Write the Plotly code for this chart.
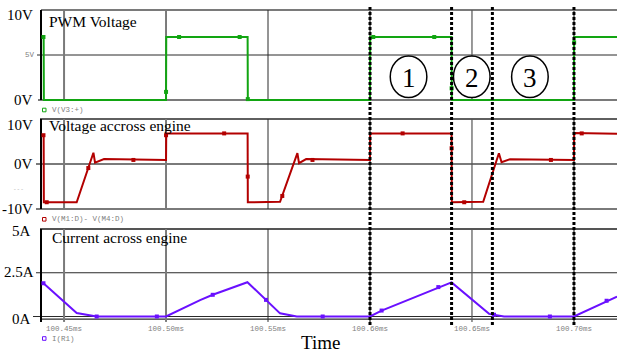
import plotly.graph_objects as go

W, H = 617, 353
SERIF = "Liberation Serif, Times New Roman, serif"
MONO = "Liberation Mono, Courier New, monospace"

# ---------------- data ----------------
# time axis, ms
tick_times = [100.45, 100.50, 100.55, 100.60, 100.65, 100.70]
tick_labels = ["100.45ms", "100.50ms", "100.55ms", "100.60ms", "100.65ms", "100.70ms"]
t_view = [100.4387, 100.7211]

# V(V3:+)  PWM gate voltage, V
pwm_t = [100.4399, 100.4400, 100.4401, 100.5000, 100.5001, 100.5400, 100.5401,
         100.6000, 100.6001, 100.6400, 100.6401, 100.7000, 100.7001, 100.7211]
pwm_v = [7.0, 7.0, 0.0, 0.0, 7.0, 7.0, 0.0, 0.0, 7.0, 7.0, 0.0, 0.0, 7.0, 7.0]
pwm_mark_t = [100.4399, 100.50001, 100.5064, 100.5361, 100.54009, 100.6016, 100.6315, 100.64002, 100.70009]
pwm_mark_v = [7.0, 0.9, 7.0, 7.0, 0.1, 7.0, 7.0, 1.3, 6.4]

# V(M1:D)- V(M4:D)  voltage across the motor, V
eng_t = [100.4399, 100.4400, 100.4401, 100.4562, 100.4644, 100.4652, 100.4696, 100.5000,
         100.5001, 100.5400, 100.5401, 100.5559, 100.5644, 100.5652, 100.5687, 100.6000,
         100.6001, 100.6400, 100.6401, 100.6555, 100.6632, 100.6645, 100.6686, 100.7000,
         100.7001, 100.7211]
eng_v = [6.4, 6.4, -8.5, -8.5, 2.5, 0.3, 1.1, 0.9,
         6.8, 6.8, -8.5, -8.4, 2.4, 0.2, 1.1, 0.9,
         6.8, 6.8, -8.5, -8.4, 2.4, 0.4, 1.05, 0.9,
         6.9, 6.7]
eng_mark_t = [100.4399, 100.4415, 100.4619, 100.4840, 100.50001, 100.5285, 100.54005,
              100.5570, 100.5718, 100.6160, 100.64002, 100.6462, 100.6887, 100.7038]
eng_mark_v = [6.4, -8.5, -0.9, 0.9, 6.4, 6.8, -2.8, -7.1, 0.9, 6.8, 3.5, -8.5, 0.9, 6.8]

# I(R1)  motor current, A
cur_t = [100.4399, 100.4562, 100.4660, 100.5000, 100.5167, 100.5229, 100.5399, 100.5490,
         100.5559, 100.5641, 100.6000, 100.6057, 100.6335, 100.6400, 100.6584, 100.6657,
         100.7000, 100.7160, 100.7211]
cur_a = [1.9, 0.2, 0.0, 0.0, 0.94, 1.24, 1.96, 0.95,
         0.18, 0.0, 0.0, 0.34, 1.68, 1.95, 0.15, 0.0,
         0.0, 0.9, 1.14]
cur_mark_t = [100.4399, 100.4660, 100.4955, 100.5229, 100.5490, 100.5768, 100.6057,
              100.6335, 100.6608, 100.6882, 100.7160]
cur_mark_a = [1.9, 0.0, 0.0, 1.24, 0.95, 0.0, 0.34, 1.68, 0.10, 0.0, 0.9]

# switching instants and operating phases
event_times = [100.60, 100.64, 100.66, 100.70]
phase_labels = ["1", "2", "3"]
phase_centers = [100.6189, 100.6499, 100.6784]

GREEN = "#12a512"
RED = "#b30000"
BLUE = "#6a10ff"
GRID = "#7a7a7a"
DARK = "#2a2a2a"
LABEL_GRAY = "#808080"

# ---------------- layout helpers ----------------
def fx(px):
    return px / W


def fy(py):
    return 1 - py / H


# (top px, bottom px, px of zero, px per unit)
panels = [(7, 104, 100, 9.0), (117, 212, 164, 4.5), (226, 322, 316.5, 17.5)]
yaxes = []
for top, bot, zero, ppu in panels:
    yaxes.append(dict(domain=[fy(bot), fy(top)],
                      range=[(zero - bot) / ppu, (zero - top) / ppu]))

fig = go.Figure()

series = [
    ("y", pwm_t, pwm_v, pwm_mark_t, pwm_mark_v, GREEN, "V(V3:+)"),
    ("y2", eng_t, eng_v, eng_mark_t, eng_mark_v, RED, "V(M1:D)- V(M4:D)"),
    ("y3", cur_t, cur_a, cur_mark_t, cur_mark_a, BLUE, "I(R1)"),
]
xnames = ["x", "x2", "x3"]
for (yn, t, v, mt, mv, col, name), xn in zip(series, xnames):
    fig.add_trace(go.Scatter(x=t, y=v, mode="lines", xaxis=xn, yaxis=yn,
                             line=dict(color=col, width=2), name=name,
                             showlegend=False, hoverinfo="skip"))
    fig.add_trace(go.Scatter(x=mt, y=mv, mode="markers", xaxis=xn, yaxis=yn,
                             marker=dict(color=col, symbol="square", size=4),
                             showlegend=False, hoverinfo="skip"))

shapes = []


def hline(yref, val, color, width, x0px=41):
    shapes.append(dict(type="line", xref="paper", yref=yref, x0=fx(x0px), x1=1,
                       y0=val, y1=val, line=dict(color=color, width=width), layer="below"))


def vline(xref, yref, t, lo, hi, color, width):
    shapes.append(dict(type="line", xref=xref, yref=yref, x0=t, x1=t, y0=lo, y1=hi,
                       line=dict(color=color, width=width), layer="below"))


v_styles = [(GRID, 2), (GRID, 2), (DARK, 1), (GRID, 2), ("#555555", 1.2), (GRID, 2)]

# panel 1: PWM
hline("y", 10, GRID, 2)
hline("y", 5, DARK, 1, 37)
hline("y", 0, GRID, 2, 38)
# panel 2: motor voltage
hline("y2", 10, DARK, 1.5, 40)
hline("y2", 0, GRID, 2, 36)
hline("y2", -10, GRID, 2, 36)
# panel 3: current
hline("y3", 5, "#555555", 2, 40)
hline("y3", 2.5, DARK, 1, 36)
hline("y3", 0, DARK, 1.2, 33)
hline("y3", -0.15, DARK, 1.2, 41)

extents = [("x", "y", 0, 10), ("x2", "y2", -10, 10), ("x3", "y3", -0.31, 5)]
for xr, yr, lo, hi in extents:
    for tt, (c, w) in zip(tick_times, v_styles):
        vline(xr, yr, tt, lo, hi, c, w)
    shapes.append(dict(type="line", xref="paper", yref=yr, x0=fx(41), x1=fx(41),
                       y0=lo, y1=hi, line=dict(color="black", width=2), layer="below"))

# switching instants
for tt in event_times:
    shapes.append(dict(type="line", xref="x", yref="paper", x0=tt, x1=tt,
                       y0=fy(325), y1=fy(5),
                       line=dict(color="black", width=3, dash="3px,2px"), layer="above"))

# phase markers
half_w = 18.3 * (0.05 / 102)
for c in phase_centers:
    shapes.append(dict(type="circle", xref="x", yref="y", x0=c - half_w, x1=c + half_w,
                       y0=0.28, y1=4.89, fillcolor="white",
                       line=dict(color="black", width=1.5), layer="above"))

# legend swatches
for ypx, col in [(110, GREEN), (219.3, RED), (338.5, BLUE)]:
    shapes.append(dict(type="rect", xref="paper", yref="paper",
                       x0=fx(42.5), x1=fx(46), y0=fy(ypx + 1.8), y1=fy(ypx - 1.8),
                       line=dict(color=col, width=1), fillcolor="white"))

ann = []
for c, lab in zip(phase_centers, phase_labels):
    ann.append(dict(x=c, y=2.58, xref="x", yref="y", text=lab, showarrow=False,
                    font=dict(family=SERIF, size=27, color="black"),
                    xanchor="center", yanchor="middle", yshift=-1))

titles = [("PWM Voltage", 47, 21), ("Voltage accross engine", 47, 126),
          ("Current across engine", 50, 237)]
for txt, xp, yp in titles:
    ann.append(dict(x=fx(xp), y=fy(yp), xref="paper", yref="paper", text=txt,
                    showarrow=False, font=dict(family=SERIF, size=15.5, color="black"),
                    xanchor="left", yanchor="middle"))

# y-axis value labels
ylabels = [("y", 10, "10V", -5, 35), ("y", 0, "0V", 0, 35),
           ("y2", 10, "10V", -6, 35), ("y2", 0, "0V", 0, 35), ("y2", -10, "-10V", 0, 35),
           ("y3", 5, "5A", -2, 33), ("y3", 2.5, "2.5A", 1, 36), ("y3", 0, "0A", -2, 33)]
for yr, val, txt, sh, xr in ylabels:
    ann.append(dict(x=fx(xr), y=val, xref="paper", yref=yr, text=txt, showarrow=False,
                    font=dict(family=SERIF, size=15, color="black"),
                    xanchor="right", yanchor="middle", yshift=sh))
ann.append(dict(x=fx(37), y=5, xref="paper", yref="y", text="5V", showarrow=False,
                font=dict(family=MONO, size=7.5, color=LABEL_GRAY),
                xanchor="right", yanchor="middle"))
ann.append(dict(x=fx(18), y=fy(190), xref="paper", yref="paper", text="---", showarrow=False,
                font=dict(family=MONO, size=6, color="#aaaaaa"),
                xanchor="center", yanchor="middle"))

# trace names
for ypx, (_, _, _, _, _, col, name) in zip([110, 219.3, 338.5], series):
    ann.append(dict(x=fx(50), y=fy(ypx), xref="paper", yref="paper", text=name,
                    showarrow=False, font=dict(family=MONO, size=7.5, color=LABEL_GRAY),
                    xanchor="left", yanchor="middle"))

ann.append(dict(x=fx(320), y=fy(342), xref="paper", yref="paper", text="Time",
                showarrow=False, font=dict(family=SERIF, size=19, color="black"),
                xanchor="center", yanchor="middle"))

xcommon = dict(range=t_view, domain=[fx(41), 1], showgrid=False, zeroline=False,
               showline=False, ticks="")
layout = dict(
    width=W, height=H, margin=dict(l=0, r=0, t=0, b=0),
    paper_bgcolor="white", plot_bgcolor="white", showlegend=False,
    xaxis=dict(**xcommon, anchor="y", showticklabels=False),
    xaxis2=dict(**xcommon, anchor="y2", matches="x", showticklabels=False),
    xaxis3=dict(**xcommon, anchor="y3", matches="x", tickvals=tick_times,
                ticktext=tick_labels, ticklabelstandoff=0,
                tickfont=dict(family=MONO, size=7.5, color=LABEL_GRAY)),
    shapes=shapes, annotations=ann,
)
for i, ya in enumerate(yaxes):
    key = "yaxis" if i == 0 else f"yaxis{i + 1}"
    layout[key] = dict(**ya, anchor=xnames[i], showgrid=False, zeroline=False,
                       showline=False, showticklabels=False, ticks="")

fig.update_layout(**layout)
fig.write_html("out.html")
